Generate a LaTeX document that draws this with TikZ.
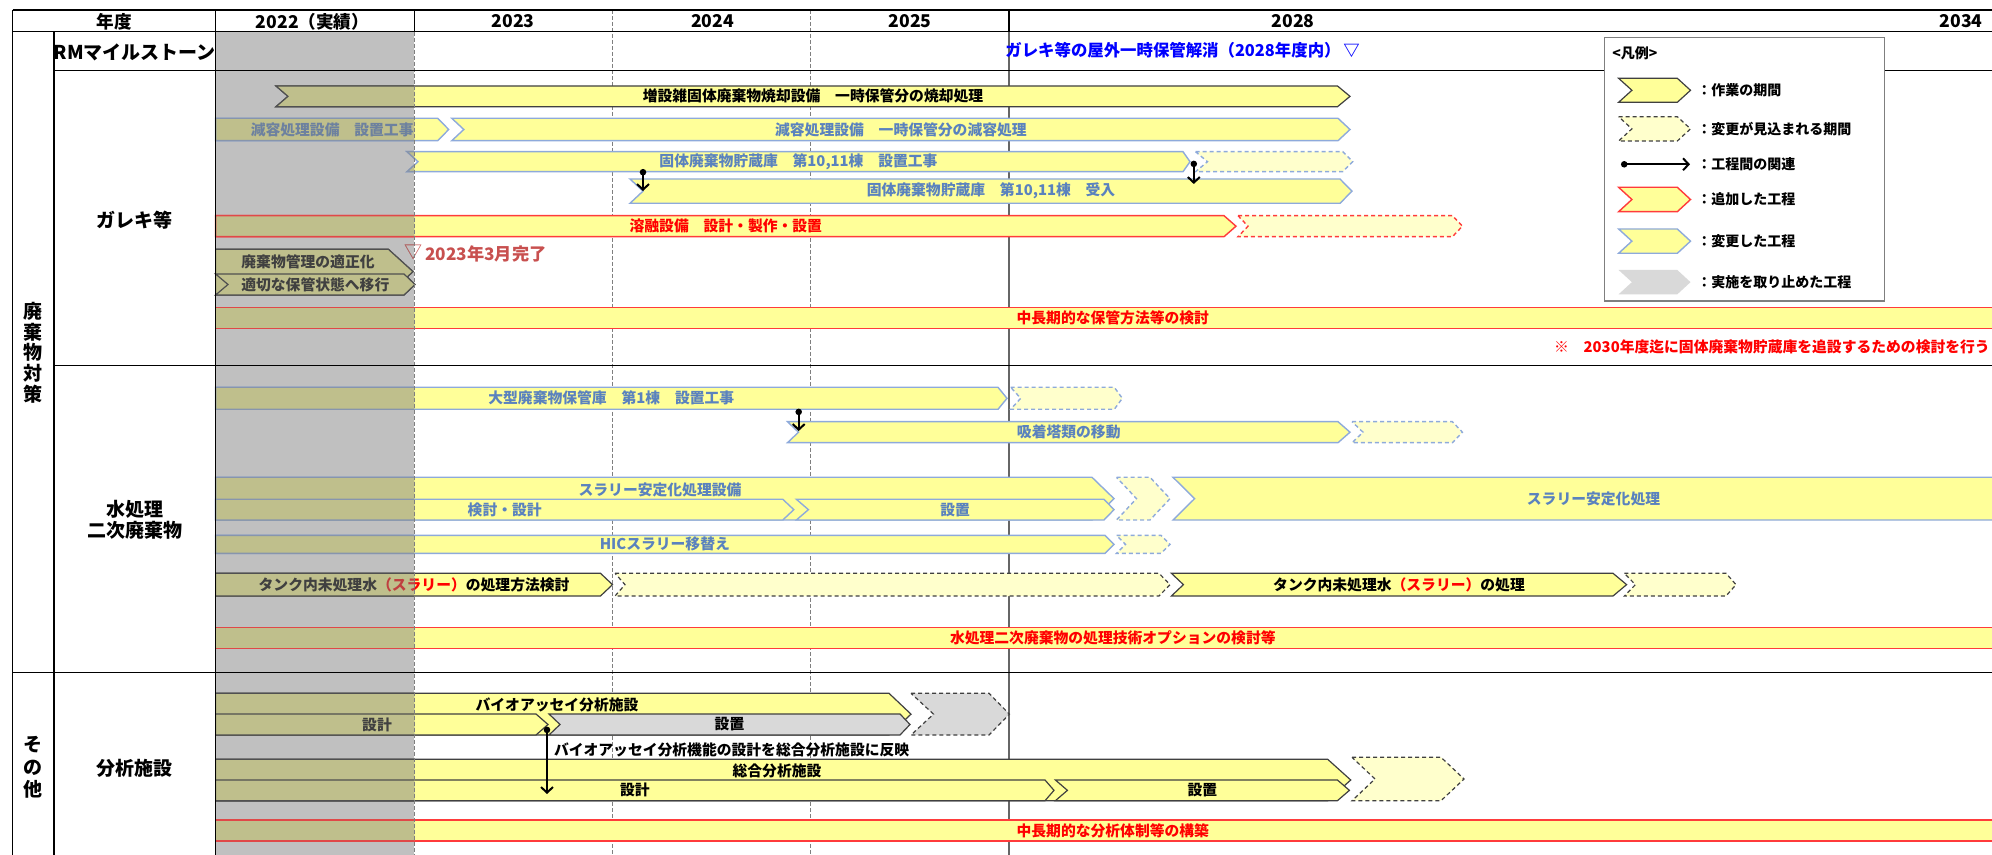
\documentclass[tikz,border=0pt]{standalone}
\usepackage{fontspec}
\setmainfont{Noto Sans CJK JP}
\usetikzlibrary{arrows.meta}
\definecolor{yfill}{HTML}{FFFF99}
\definecolor{lyfill}{HTML}{FFFFCC}
\definecolor{bline}{HTML}{8EAADB}
\definecolor{btext}{HTML}{5A82BE}
\definecolor{rline}{HTML}{FF3B3B}
\definecolor{rtext}{HTML}{FF0000}
\definecolor{kline}{HTML}{404040}
\definecolor{ktext}{HTML}{000000}
\definecolor{cgray}{HTML}{D9D9D9}
\definecolor{mblue}{HTML}{0000FF}
\definecolor{dred}{HTML}{C8504F}
\definecolor{gridg}{HTML}{7F7F7F}
\definecolor{colgray}{HTML}{C0C0C0}
\newcommand\btx[1]{\textcolor{btext}{#1}}
\newcommand\rtx[1]{\textcolor{rtext}{#1}}
\def\sfx{}
\tikzset{
  kbar/.style={fill=yfill, draw=kline, line width=0.6pt},
  bbar/.style={fill=yfill, draw=bline, line width=0.7pt},
  rbar/.style={fill=yfill, draw=rline, line width=0.7pt},
  kdash/.style={fill=lyfill, draw=kline, line width=0.6pt, dash pattern=on 2pt off 1.5pt},
  bdash/.style={fill=lyfill, draw=bline, line width=0.7pt, dash pattern=on 2pt off 1.5pt},
  rdash/.style={fill=lyfill, draw=rline, line width=0.7pt, dash pattern=on 2pt off 1.5pt},
  cbar/.style={fill=cgray, draw=kline, line width=0.6pt},
  cdash/.style={fill=cgray, draw=kline, line width=0.6pt, dash pattern=on 2pt off 1.5pt},
  cplain/.style={fill=cgray},
  bartext/.style={font=\bfseries\fontsize{7.4}{8.5}\selectfont, inner sep=0pt, text=ktext},
  legtxt/.style={font=\bfseries\fontsize{7}{8}\selectfont, inner sep=0pt, anchor=west},
  hdr/.style={font=\bfseries\fontsize{8.8}{10}\selectfont, inner sep=0pt},
  cattxt/.style={font=\bfseries\fontsize{9.5}{10.35}\selectfont, inner sep=0pt, align=center},
  gridk/.style={draw=black, line width=0.7pt},
  gridd/.style={draw=gridg, line width=0.5pt, dash pattern=on 2pt off 1pt},
  grids/.style={draw=kline!80, line width=0.6pt},
  relarrow/.style={line width=1pt, {Circle[length=3.2pt]}-{Straight Barb[length=2.8pt,width=6pt]}},
}
% \chev[style]{name}{x1}{x2}{y1}{y2}{notch}{tip}{text}
\newcommand\chev[9][]{%
  \path[#1] (#3,#5) -- ({#4-#8},#5) -- (#4,{(#5+#6)/2}) -- ({#4-#8},#6) -- (#3,#6) -- ({#3+#7},{(#5+#6)/2}) -- cycle;
  \node[bartext] (#2\sfx) at ({(#3+#4)/2},{(#5+#6)/2}) {#9};%
}
\newcommand\allbars{%
% ---- ガレキ等 ----
\chev[kbar]{b1}{276}{1350}{86}{106.7}{12}{12.5}{増設雑固体廃棄物焼却設備　一時保管分の焼却処理}
\chev[bbar]{b2a}{215.6}{448.7}{118.3}{140.7}{0}{11}{\btx{減容処理設備　設置工事}}
\chev[bbar]{b2b}{451.8}{1350}{118.3}{140.7}{12}{12}{\btx{減容処理設備　一時保管分の減容処理}}
\chev[bbar]{b3}{407}{1190}{151.7}{171.7}{11}{7}{\btx{固体廃棄物貯蔵庫　第10,11棟　設置工事}}
\chev[bdash]{b3d}{1195.5}{1352.7}{151.7}{171.7}{12}{10}{}
\chev[bbar]{b4}{630}{1352}{179}{203.3}{13}{12}{\btx{固体廃棄物貯蔵庫　第10,11棟　受入}}
\chev[rbar]{b5}{215.6}{1236}{215.7}{236.7}{0}{12}{\rtx{溶融設備　設計・製作・設置}}
\chev[rdash]{b5d}{1238}{1462.4}{215.7}{236.7}{10}{10}{}
\chev[kbar]{b6}{215.6}{413}{249.3}{294}{0}{24.6}{}
\node[bartext] (b6t\sfx) at (308,261.7) {廃棄物管理の適正化};
\chev[kbar]{b7}{215.6}{415}{274}{295}{12.4}{11}{適切な保管状態へ移行}
\node[font=\fontsize{9}{9}\selectfont, text=dred, inner sep=0pt] (dtri\sfx) at (413,252) {▽};
\chev[rbar]{b8}{215.6}{2010}{307.3}{328.3}{0}{0}{\rtx{中長期的な保管方法等の検討}}
% ---- 水処理 ----
\chev[bbar]{c1}{215.6}{1007}{387.3}{409.3}{0}{9}{\btx{大型廃棄物保管庫　第1棟　設置工事}}
\chev[bdash]{c1d}{1010.7}{1122.3}{387.3}{409.3}{10}{8}{}
\chev[bbar]{c2}{787.5}{1350}{421.7}{442.7}{11}{12}{\btx{吸着塔類の移動}}
\chev[bdash]{c2d}{1352}{1462.4}{421.7}{442.7}{11}{10}{}
\chev[bbar]{c3}{215.6}{1114}{477.3}{520}{0}{22}{}
\node[bartext, text=btext] (c3t\sfx) at (660,490) {スラリー安定化処理設備};
\chev[bbar]{c4}{215.6}{793.8}{499.3}{520}{0}{11}{\btx{検討・設計}}
\chev[bbar]{c5}{796.4}{1114}{499.3}{520}{12}{10}{\btx{設置}}
\chev[bdash]{c6d}{1116.5}{1170}{477.3}{520}{20}{20}{}
\chev[bbar]{c7}{1173}{2014}{477.3}{520}{21.6}{0}{\btx{スラリー安定化処理}}
\chev[bbar]{c8}{215.6}{1114}{535.3}{553.3}{0}{9}{\btx{HICスラリー移替え}}
\chev[bdash]{c8d}{1116.5}{1170}{535.3}{553.3}{9}{9}{}
\chev[kbar]{c9}{215.6}{612.5}{573.3}{596}{0}{12}{タンク内未処理水\rtx{（スラリー）}の処理方法検討}
\chev[kdash]{c9d}{615}{1170}{573.3}{596}{10}{11}{}
\chev[kbar]{c10}{1171.4}{1626.6}{573.3}{596}{12}{13.6}{タンク内未処理水\rtx{（スラリー）}の処理}
\chev[kdash]{c10d}{1624.4}{1736}{573.3}{596}{11}{10}{}
\chev[rbar]{c11}{215.6}{2010}{627.3}{648.3}{0}{0}{\rtx{水処理二次廃棄物の処理技術オプションの検討等}}
% ---- その他 ----
\chev[kbar]{d1}{215.6}{911}{693.3}{735}{0}{22}{}
\node[bartext] (d1t\sfx) at (557,705) {バイオアッセイ分析施設};
\chev[kbar]{d2}{215.6}{548}{714}{735}{0}{12}{}
\node[bartext] (d2t\sfx) at (377,724.5) {設計};
\chev[cbar]{d3}{549}{910}{714}{735}{11}{10}{設置}
\chev[cdash]{d4d}{911}{1009.4}{693.3}{735}{22.5}{20.4}{}
\chev[kbar]{d5}{215.6}{1350.7}{759.3}{800.7}{0}{23}{}
\node[bartext] (d5t\sfx) at (777,771) {総合分析施設};
\chev[kbar]{d6}{215.6}{1054}{780}{800.7}{0}{9}{設計}
\chev[kbar]{d7}{1055.4}{1349.4}{780}{800.7}{12}{12}{設置}
\chev[kdash]{d8d}{1352}{1464}{757.3}{800.7}{23}{23}{}
\chev[rbar]{d9}{215.6}{2010}{820}{841}{0}{0}{\rtx{中長期的な分析体制等の構築}}
}
\begin{document}
\begin{tikzpicture}[x=0.5pt,y=-0.5pt]
\useasboundingbox (0,0) rectangle (1992,855);
\clip (0,0) rectangle (1992,855);
\fill[white] (0,0) rectangle (1992,855);
\fill[colgray] (215.6,31.7) rectangle (414.3,855);

% background grid (below header)
\draw[gridd] (612.5,10) -- (612.5,855);
\draw[gridd] (810.7,10) -- (810.7,855);
\draw[grids] (1009,31.7) -- (1009,855);

% ---- bars, normal colours ----
\allbars

% ---- the 2022 column: same bars, dimmed ----
\begin{scope}
\clip (215.6,31.7) rectangle (414.3,855);
\def\sfx{-dim}
\definecolor{yfill}{HTML}{BFBF8C}
\definecolor{lyfill}{HTML}{BFBFA6}
\definecolor{bline}{HTML}{8795AD}
\definecolor{btext}{HTML}{6D819F}
\definecolor{rline}{HTML}{E04848}
\definecolor{rtext}{HTML}{BF4040}
\definecolor{kline}{HTML}{505050}
\definecolor{ktext}{HTML}{404040}
\definecolor{cgray}{HTML}{ACACAC}
\definecolor{dred}{HTML}{A46867}
\allbars
\end{scope}
\draw[gridd] (414.3,31.7) -- (414.3,855);

\node[font=\bfseries\fontsize{8.6}{9}\selectfont, text=dred, inner sep=0pt, anchor=west] (done) at (425,254) {2023年3月完了};
\node[bartext, anchor=west, text=rtext] (note) at (1553.7,346.7) {※　2030年度迄に固体廃棄物貯蔵庫を追設するための検討を行う};
\node[bartext, anchor=west] (d4t) at (553.6,750) {バイオアッセイ分析機能の設計を総合分析施設に反映};

% ---- relation arrows ----
\coordinate (a1s) at (643,169);
\coordinate (a1e) at (643,191);
\coordinate (a2s) at (1193.8,160.7);
\coordinate (a2e) at (1193.8,184);
\coordinate (a3s) at (798.7,408.7);
\coordinate (a3e) at (798.7,431);
\coordinate (a4s) at (547,726.7);
\coordinate (a4e) at (547,794);
\draw[relarrow] (a1s) -- (a1e);
\draw[relarrow] (a2s) -- (a2e);
\draw[relarrow] (a3s) -- (a3e);
\draw[relarrow] (a4s) -- (a4e);

% ---- table lines ----
\draw[gridk] (12.5,10) -- (1992,10);
\draw[gridk] (12.5,31.7) -- (1992,31.7);
\draw[gridk] (54,70.3) -- (1992,70.3);
\draw[gridk] (54,365.7) -- (1992,365.7);
\draw[gridk] (12.5,672.3) -- (1992,672.3);
\draw[gridk] (12.5,10) -- (12.5,855);
\draw[gridk] (54,31.7) -- (54,855);
\draw[gridk] (215.6,10) -- (215.6,855);
\draw[gridk] (414.3,10) -- (414.3,31.7);
\draw[gridk] (1009,10) -- (1009,31.7);

% ---- header ----
\node[hdr] (h0) at (114,21.5) {年度};
\node[hdr] (h1) at (312.5,21.5) {2022（実績）};
\node[hdr] (h2) at (513,21.5) {2023};
\node[hdr] (h3) at (712.5,21.5) {2024};
\node[hdr] (h4) at (910,21.5) {2025};
\node[hdr] (h5) at (1293,21.5) {2028};
\node[hdr] (h6) at (1961,21.5) {2034};

% ---- row labels ----
\node[cattxt] (cat1) at (33,352.5) {廃\\棄\\物\\対\\策};
\node[cattxt, font=\bfseries\fontsize{9.5}{11.25}\selectfont] (cat2) at (33,767.5) {そ\\の\\他};
\node[cattxt] (s0) at (134.8,52.3) {RMマイルストーン};
\node[cattxt] (s1) at (134.8,220) {ガレキ等};
\node[cattxt] (s2) at (134.8,519.6) {水処理\\二次廃棄物};
\node[cattxt] (s3) at (134.8,768.3) {分析施設};

% ---- milestone ----
\node[font=\bfseries\fontsize{8.2}{9}\selectfont, text=mblue, inner sep=0pt, anchor=west] (ms) at (1005,50) {ガレキ等の屋外一時保管解消（2028年度内）\,▽};

% ---- legend ----
\node[draw=gridg, fill=white, line width=0.7pt, minimum width=140.1pt, minimum height=131.65pt, inner sep=0pt] (leg) at (1744.6,169.35) {};
\node[legtxt] (lgt) at (1612,53.3) {<凡例>};
\chev[kbar]{l1}{1618.6}{1690.5}{78.3}{102.3}{13.3}{13.2}{}
\chev[kdash]{l2}{1618.6}{1690.5}{116.7}{141}{13.3}{13.2}{}
\coordinate (l3s) at (1621,164.3);
\coordinate (l3e) at (1690,164.3);
\draw[relarrow] (l3s) -- (l3e);
\chev[rbar]{l4}{1618.6}{1690.5}{187.3}{211.7}{13.3}{13.2}{}
\chev[bbar]{l5}{1618.6}{1690.5}{229}{253.3}{13.3}{13.2}{}
\chev[cplain]{l6}{1618.6}{1690.5}{270}{294.3}{13.3}{13.2}{}
\node[legtxt] (lt1) at (1697,90.3) {：作業の期間};
\node[legtxt] (lt2) at (1697,128.8) {：変更が見込まれる期間};
\node[legtxt] (lt3) at (1697,164.3) {：工程間の関連};
\node[legtxt] (lt4) at (1697,199.5) {：追加した工程};
\node[legtxt] (lt5) at (1697,241) {：変更した工程};
\node[legtxt] (lt6) at (1697,282) {：実施を取り止めた工程};
\end{tikzpicture}
\end{document}
